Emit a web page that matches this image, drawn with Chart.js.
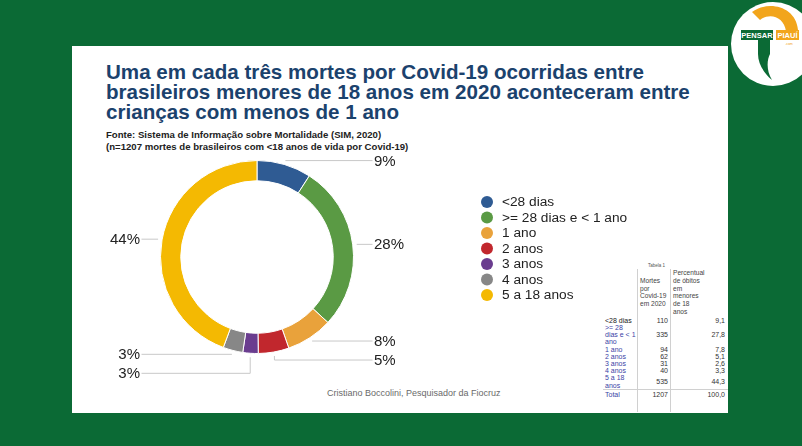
<!DOCTYPE html>
<html>
<head>
<meta charset="utf-8">
<script src="https://cdn.jsdelivr.net/npm/chart.js@4"></script>
<style>
  html, body { margin: 0; padding: 0; }
  body { width: 802px; height: 446px; background: #0b6a35; position: relative; overflow: hidden; font-family: "Liberation Sans", Arial, sans-serif; }
  #panel { position: absolute; left: 72px; top: 46px; width: 656px; height: 367px; background: #fff; }
  #chart { position: absolute; left: 0; top: 0; }
  #title { position: absolute; left: 106px; top: 62px; font-size: 20.6px; line-height: 20px; font-weight: bold; color: #1b426d; white-space: nowrap; }
  #source { position: absolute; left: 106px; top: 129px; font-size: 9.6px; line-height: 12px; font-weight: bold; color: #222; white-space: nowrap; }
  #credit { position: absolute; left: 327px; top: 388px; font-size: 9px; color: #6a6a6a; white-space: nowrap; }
  #tbl { position: absolute; left: 603px; top: 262px; width: 125px; font-size: 7px; line-height: 7.2px; color: #333; }
  #tbl .cap { font-size: 4.5px; line-height: 7px; color: #555; padding-left: 45px; }
  #tbl table { border-collapse: collapse; table-layout: fixed; width: 125px; }
  #tbl td { padding: 0 2px; vertical-align: middle; }
  #tbl td.c1 { width: 31px; color: #3b3fa6; padding-right: 1px; }
  #tbl td.c2 { width: 28px; text-align: right; border-left: 1px solid #d0d0d0; border-right: 1px solid #d0d0d0; }
  #tbl td.c3 { text-align: right; padding-right: 3px; }
  #tbl tr.h td { font-size: 6.6px; line-height: 7.8px; text-align: left; color: #444; padding-bottom: 1px; }
  #tbl tr.h td.c3 { vertical-align: top; }
  #tbl tr.t td { border-top: 1px solid #d0d0d0; padding-top: 1px; padding-bottom: 14px; }
  #logo { position: absolute; left: 722px; top: 0; }
</style>
</head>
<body>
<div id="panel"></div>
<div id="title">Uma em cada três mortes por Covid-19 ocorridas entre<br>brasileiros menores de 18 anos em 2020 aconteceram entre<br>crianças com menos de 1 ano</div>
<div id="source">Fonte: Sistema de Informação sobre Mortalidade (SIM, 2020)<br>(n=1207 mortes de brasileiros com &lt;18 anos de vida por Covid-19)</div>
<div id="credit">Cristiano Boccolini, Pesquisador da Fiocruz</div>
<div id="tbl"></div>
<svg id="logo" width="80" height="92" viewBox="0 0 80 92">
  <circle cx="51" cy="44" r="42" fill="#fff"/>
  <path d="M30 12 C46 0 74 6 76 30 L76 40 L64 40 L64 31 C62 17 48 12 38 20 Z" fill="#f2a51c"/>
  <rect x="54" y="30" width="23" height="10" fill="#f2a51c"/>
  <path d="M36 40 L36 54 C36 64 42 73 50 80 C44 70 45 60 48 54 L48 40 Z" fill="#0b6a35"/>
  <rect x="19" y="30" width="32" height="10" fill="#0b6a35"/>
  <text x="35" y="38" font-family="Liberation Sans, Arial" font-size="7.5" font-weight="bold" fill="#fff" text-anchor="middle">PENSAR</text>
  <text x="65.5" y="38" font-family="Liberation Sans, Arial" font-size="7.5" font-weight="bold" fill="#fff" text-anchor="middle">PIAUÍ</text>
  <text x="67" y="45" font-family="Liberation Sans, Arial" font-size="3.5" fill="#f2a51c" text-anchor="middle">.com</text>
</svg>
<canvas id="chart" width="802" height="446"></canvas>
<script>
const categories = ['<28 dias', '>= 28 dias e < 1 ano', '1 ano', '2 anos', '3 anos', '4 anos', '5 a 18 anos'];
const deaths = [110, 335, 94, 62, 31, 40, 535];
const percentLabels = ['9%', '28%', '8%', '5%', '3%', '3%', '44%'];
const tablePercent = ['9,1', '27,8', '7,8', '5,1', '2,6', '3,3', '44,3'];
const tableTotal = [1207, '100,0'];
const colors = ['#2f5b93', '#5a9a44', '#e9a23b', '#c1272d', '#6a3d8f', '#878787', '#f4b902'];

// small table at bottom right
let html = '<div class="cap">Tabela 1</div><table>';
html += '<tr class="h"><td class="c1"></td><td class="c2">Mortes<br>por<br>Covid-19<br>em 2020</td>' +
        '<td class="c3" style="text-align:left">Percentual<br>de óbitos<br>em<br>menores<br>de 18<br>anos</td></tr>';
categories.forEach(function (c, i) {
  const lbl = c.replace('<', '&lt;').replace('>', '&gt;');
  html += '<tr><td class="c1"' + (i === 0 ? ' style="color:#222"' : '') + '>' + lbl + '</td><td class="c2">' +
          deaths[i] + '</td><td class="c3">' + tablePercent[i] + '</td></tr>';
});
html += '<tr class="t"><td class="c1">Total</td><td class="c2">' + tableTotal[0] + '</td><td class="c3">' + tableTotal[1] + '</td></tr></table>';
document.getElementById('tbl').innerHTML = html;

const labelPlugin = {
  id: 'outLabels',
  afterDatasetsDraw(chart) {
    const ctx = chart.ctx;
    const items = chart.getDatasetMeta(0).data.map(function (arc, i) {
      const p = arc.getProps(['x', 'y', 'startAngle', 'endAngle', 'outerRadius'], true);
      const mid = (p.startAngle + p.endAngle) / 2;
      const r = p.outerRadius + 4;
      const ax = p.x + Math.cos(mid) * r;
      const ay = p.y + Math.sin(mid) * r;
      return { i: i, cx: p.x, R: p.outerRadius, ax: ax, ay: ay, ly: ay, side: Math.cos(mid) >= 0 ? 1 : -1 };
    });
    [1, -1].forEach(function (side) {
      const s = items.filter(function (d) { return d.side === side; }).sort(function (a, b) { return a.ay - b.ay; });
      for (let k = 1; k < s.length; k++) {
        if (s[k].ly < s[k - 1].ly + 19) s[k].ly = s[k - 1].ly + 19;
      }
    });
    ctx.save();
    ctx.strokeStyle = '#c8c8c8';
    ctx.lineWidth = 1;
    ctx.font = '15px "Liberation Sans", Arial, sans-serif';
    ctx.fillStyle = '#222';
    ctx.textBaseline = 'middle';
    items.forEach(function (d) {
      const endX = d.cx + d.side * (d.R + 19);
      ctx.beginPath();
      ctx.moveTo(d.ax, d.ay);
      if (d.ly - d.ay > 3) ctx.lineTo(d.ax, d.ly);
      ctx.lineTo(endX, d.ly);
      ctx.stroke();
      ctx.textAlign = d.side > 0 ? 'left' : 'right';
      ctx.fillText(percentLabels[d.i], endX + d.side * 1.5, d.ly + 1);
    });
    ctx.restore();
  }
};

const legendPlugin = {
  id: 'sideLegend',
  afterDraw(chart, args, opts) {
    const ctx = chart.ctx;
    ctx.save();
    ctx.font = '13.7px "Liberation Sans", Arial, sans-serif';
    ctx.textBaseline = 'middle';
    ctx.textAlign = 'left';
    chart.data.labels.forEach(function (lbl, i) {
      const y = opts.y + i * opts.step;
      ctx.fillStyle = chart.data.datasets[0].backgroundColor[i];
      ctx.beginPath();
      ctx.arc(opts.x, y, 6, 0, Math.PI * 2);
      ctx.fill();
      ctx.fillStyle = '#222';
      ctx.fillText(lbl, opts.x + 15, y + 0.5);
    });
    ctx.restore();
  }
};

new Chart(document.getElementById('chart'), {
  type: 'doughnut',
  data: {
    labels: categories,
    datasets: [{
      data: deaths,
      backgroundColor: colors,
      borderColor: '#fff',
      borderWidth: 1
    }]
  },
  options: {
    responsive: false,
    animation: false,
    cutout: '79%',
    layout: { padding: { left: 160, right: 448, top: 160, bottom: 92 } },
    plugins: {
      legend: { display: false },
      tooltip: { enabled: false },
      sideLegend: { x: 487, y: 202, step: 15.5 }
    }
  },
  plugins: [labelPlugin, legendPlugin]
});
</script>
</body>
</html>
